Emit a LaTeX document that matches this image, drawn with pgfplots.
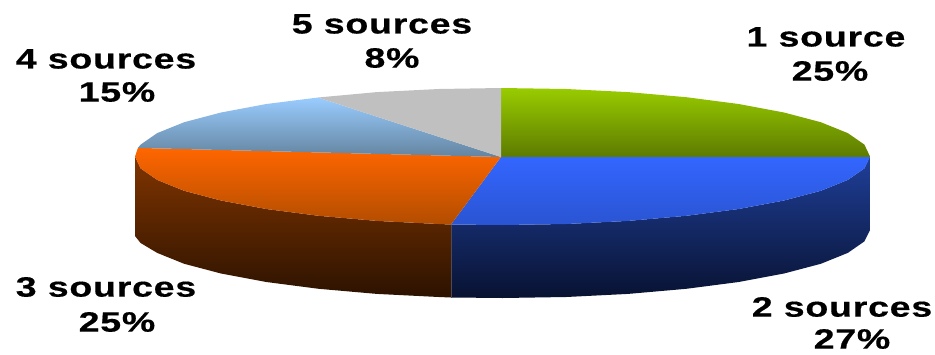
\documentclass[border=0pt]{standalone}
\usepackage{fontspec}
\setmainfont{Liberation Sans}
\newfontfamily\labfont[LetterSpace=2,BoldFeatures={FakeBold=0.4}]{Liberation Sans}
\usepackage{pgfplots}
\pgfplotsset{compat=1.18}
% Slice and wall colours of the 3D pie
\definecolor{greenA}{HTML}{99CC00}\definecolor{greenB}{HTML}{5C7A00}
\definecolor{blueA}{HTML}{3366FF}\definecolor{blueB}{HTML}{2A54D2}
\definecolor{orangeA}{HTML}{FF6600}\definecolor{orangeB}{HTML}{B34D00}
\definecolor{skyA}{HTML}{99CCFF}\definecolor{skyB}{HTML}{64849F}
\definecolor{wallBlueA}{HTML}{1F3F99}\definecolor{wallBlueB}{HTML}{081231}
\definecolor{wallBrownA}{HTML}{803500}\definecolor{wallBrownB}{HTML}{2C1200}
\definecolor{seam}{HTML}{4A4A58}
\newcommand{\lab}[3]{\node[font=\labfont\bfseries\fontsize{28}{28}\selectfont, xscale=1.34, inner sep=0pt, text=black] at (axis cs:#1,#2) {#3};}
\begin{document}
\begin{tikzpicture}
\begin{axis}[
  hide axis, scale only axis, width=935pt, height=354pt,
  xmin=0, xmax=935, ymin=0, ymax=354, y dir=reverse, clip=false,
  every axis plot/.append style={draw=none, mark=none, forget plot},
]
\path (axis cs:0,0) rectangle (axis cs:935,354);
% Walls of the disc
\addplot[top color=wallBrownA, bottom color=wallBrownB] coordinates {
 (451,224.5) (438.7,224) (376.8,220.9) (318.7,215.8) (266.3,209) (221,200.5)
 (184.2,190.8) (157.2,179.9) (140.6,168.4) (135,156.5) (135,236) (140.6,243)
 (157.2,252.9) (184.2,263.8) (221,273.5) (266.3,282) (318.7,288.8) (376.8,293.9)
 (438.7,297) (451,297.5) (451,224.5)};
\addplot[top color=wallBlueA, bottom color=wallBlueB] coordinates {
 (870,156.5) (864.4,168.4) (847.8,179.9) (820.8,190.8) (784,200.5) (738.7,209)
 (686.3,215.8) (628.2,220.9) (566.3,224) (502.5,225) (451,224.5) (451,297.5)
 (502.5,298) (566.3,297) (628.2,293.9) (686.3,288.8) (738.7,282) (784,273.5)
 (820.8,263.8) (847.8,252.9) (864.4,241.4) (870,230) (870,156.5)};
\addplot[draw=seam, line width=0.5pt] coordinates {(451,224.5) (451,297.5)};
% 1 source, 25%
\addplot[top color=greenA, bottom color=greenB] coordinates {
 (501,157) (501,88) (566.3,89) (628.2,92.1) (686.3,97.2) (738.7,104) (784,112.5)
 (820.8,122.2) (847.8,133.1) (864.4,144.6) (870,156.5) (870,157.5) (501,157)};
% 2 sources, 27%
\addplot[top color=blueA, bottom color=blueB] coordinates {
 (501,157) (870,157) (864.4,168.4) (847.8,179.9) (820.8,190.8) (784,200.5)
 (738.7,209) (686.3,215.8) (628.2,220.9) (566.3,224) (502.5,225) (451,224.5) (501,157)};
% 3 sources, 25%
\addplot[top color=orangeA, bottom color=orangeB] coordinates {
 (501,157) (451,224.5) (438.7,224) (376.8,220.9) (318.7,215.8) (266.3,209)
 (221,200.5) (184.2,190.8) (157.2,179.9) (140.6,168.4) (135,156.5) (137.9,147.9) (501,157)};
% 4 sources, 15%
\addplot[top color=skyA, bottom color=skyB] coordinates {
 (501,157) (137.9,147.9) (140.6,144.6) (157.2,133.1) (184.2,122.2) (221,112.5)
 (266.3,104) (318,97.5) (501,157)};
% 5 sources, 8%
\addplot[fill={rgb,255:red,192;green,192;blue,192}] coordinates {
 (501,157) (318,97.5) (376.8,92.1) (438.7,89) (501,88) (501,157)};
% Slice names and shares
\lab{826}{37}{1 source}
\lab{830}{71}{25\%}
\lab{842}{307}{2 sources}
\lab{852}{339}{27\%}
\lab{106}{287}{3 sources}
\lab{117}{322}{25\%}
\lab{106}{59}{4 sources}
\lab{117}{92}{15\%}
\lab{382}{24}{5 sources}
\lab{392}{58}{8\%}
\end{axis}
\end{tikzpicture}
\end{document}
